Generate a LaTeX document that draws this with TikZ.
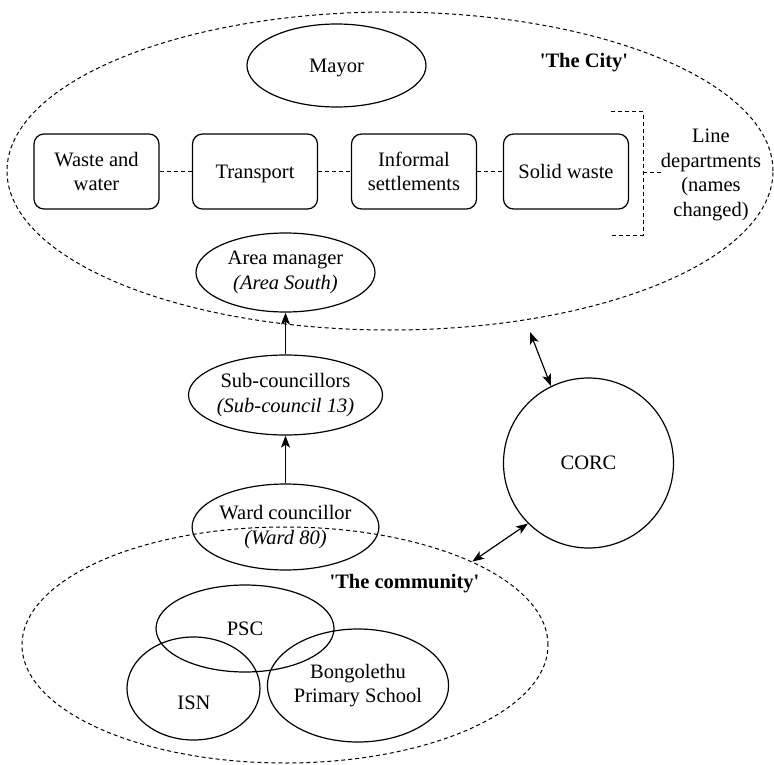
\documentclass[tikz,border=0pt]{standalone}
\usepackage{fontspec}
\setmainfont{Liberation Serif}
\newfontfamily\rawserif{Liberation Serif}
\usetikzlibrary{shapes.geometric,arrows.meta}
\begin{document}
\begin{tikzpicture}[x=1pt,y=-1pt,
  txt/.style={font=\fontsize{20.5}{24.5}\selectfont, align=center, inner sep=0pt},
  oval/.style={draw, ellipse, line width=1.2pt, inner sep=0pt, txt},
  dept/.style={draw, rounded corners=10pt, line width=1.2pt, minimum width=125pt, minimum height=75pt, txt},
  region/.style={draw, ellipse, dash pattern=on 4pt off 3pt, line width=1pt, inner sep=0pt},
  conn/.style={line width=1.2pt, -{Stealth[length=12pt,width=9pt,inset=3pt]}},
  biconn/.style={line width=1.2pt, {Stealth[length=12pt,width=9pt,inset=3pt]}-{Stealth[length=12pt,width=9pt,inset=3pt]}},
  dashconn/.style={dash pattern=on 4pt off 3pt, line width=1pt}
]
\useasboundingbox (0,0) rectangle (774,765);
% regions
\node[region, minimum width=766pt, minimum height=318pt] (city) at (390,171) {};
\node[region, minimum width=526pt, minimum height=236pt] (comm) at (285,645) {};
% city
\node[oval, text depth=0pt, minimum width=179pt, minimum height=83pt] (mayor) at (336.5,65.5) {Mayor};
\node[txt] (citylabel) at (584,63) {{\rawserif\bfseries 'The City'}};
\node[dept] (ww) at (96.5,171.5) {Waste and\\water};
\node[dept, text depth=0pt] (tr) at (255,171.5) {Transport};
\node[dept] (is) at (414,171.5) {Informal\\settlements};
\node[dept, text depth=0pt] (sw) at (566,171.5) {Solid waste};
\draw[dashconn] (ww) -- (tr);
\draw[dashconn] (tr) -- (is);
\draw[dashconn] (is) -- (sw);
\node[txt] (ld) at (711,175) {Line\\departments\\(names\\changed)};
\coordinate (bt) at (611,112);
\coordinate (bb) at (611,235);
\coordinate (bm) at (643,173);
\draw[dashconn] (bt) -- (643,112) -- (643,235) -- (bb);
\draw[dashconn] (bm) -- (bm -| ld.west);
% chain
\node[oval, minimum width=179pt, minimum height=79pt] (am) at (285.5,272.5) {Area manager\\\textit{(Area South)}};
\node[oval, minimum width=179pt, minimum height=80pt] (sub) at (285.5,395) {Sub-councillors\\\textit{(Sub-council 13)}};
\node[oval, minimum width=179pt, minimum height=86pt] (ward) at (285.5,527) {Ward councillor\\\textit{(Ward 80)}};
\draw[conn] (sub) -- (am);
\draw[conn] (ward) -- (sub);
% CORC
\node[oval, text depth=0pt, minimum width=170pt, minimum height=170pt] (corc) at (588.5,463) {CORC};
\coordinate (cityend) at (530,332);
\draw[biconn] (cityend) -- (corc.116);
\draw[biconn] (corc.225) -- (comm.24.6);
% community
\node[txt] (commlabel) at (404.5,584) {{\rawserif\bfseries 'The community'}};
\node[oval, minimum width=133pt, minimum height=103pt] (isn) at (193.5,688.5) {};
\node[txt] (isnlabel) at (194,703) {ISN};
\node[oval, text depth=0pt, minimum width=178pt, minimum height=87pt] (psc) at (245,628.5) {PSC};
\node[oval, minimum width=170pt, minimum height=113pt] (bps) at (358,685.5) {Bongolethu\\Primary School};
\end{tikzpicture}
\end{document}
